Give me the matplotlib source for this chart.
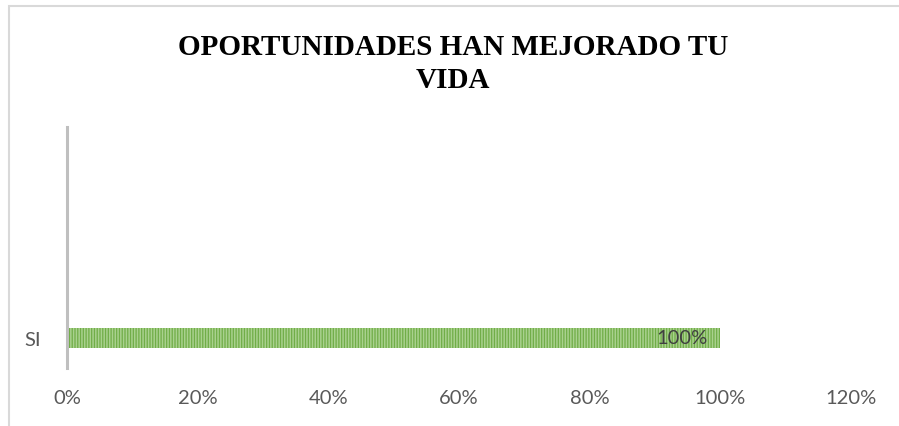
import matplotlib
matplotlib.use("Agg")
import matplotlib.pyplot as plt
from matplotlib.patches import Rectangle
from matplotlib.ticker import FuncFormatter

categories = ["SI"]
values = [1.0]
xticks = [0, 0.2, 0.4, 0.6, 0.8, 1.0, 1.2]
title = "OPORTUNIDADES HAN MEJORADO TU\nVIDA"

W, H = 899, 427
plt.rcParams['hatch.linewidth'] = 1.1
plt.rcParams['hatch.color'] = '#A9D18E'
fig = plt.figure(figsize=(W/100, H/100), dpi=100)

# chart border
fig.patches.append(Rectangle((9/W, -0.05), 1.2, 1 - 7/H + 0.05, transform=fig.transFigure,
                             fill=False, edgecolor='#D9D9D9', linewidth=1.5))

ax = fig.add_axes([67/W, 1 - 369/H, (851-67)/W, (369-128)/H])
ax.barh(range(len(categories)), values, height=0.32, color='#70AD47',
        edgecolor='#A9D18E', hatch='||||||', linewidth=0)
ax.set_xlim(0, 1.2)
ax.set_ylim(-0.5, 3.5)
ax.set_yticks(range(len(categories)))
ax.set_yticklabels(categories)
ax.set_xticks(xticks)
ax.xaxis.set_major_formatter(FuncFormatter(lambda v, p: f"{round(v*100)}%"))
for s in ['top', 'right', 'bottom']:
    ax.spines[s].set_visible(False)
ax.spines['left'].set_color('#BFBFBF')
ax.spines['left'].set_linewidth(2.2)
ax.tick_params(axis='both', length=0, labelsize=14.5, labelcolor='#595959')
ax.tick_params(axis='x', pad=15)
ax.tick_params(axis='y', pad=19)
for lab in ax.get_xticklabels() + ax.get_yticklabels():
    lab.set_fontfamily('Lato')

for i, v in enumerate(values):
    ax.text(v - 0.02, i, f"{round(v*100)}%", ha='right', va='center',
            fontsize=14.5, color='#404040', family='Lato')

fig.text(453/W, 1 - 64/H, title, ha='center', va='center', fontsize=21,
         fontweight='bold', family='Liberation Serif', linespacing=1.3,
         color='black')

fig.savefig("out.png", dpi=100)
